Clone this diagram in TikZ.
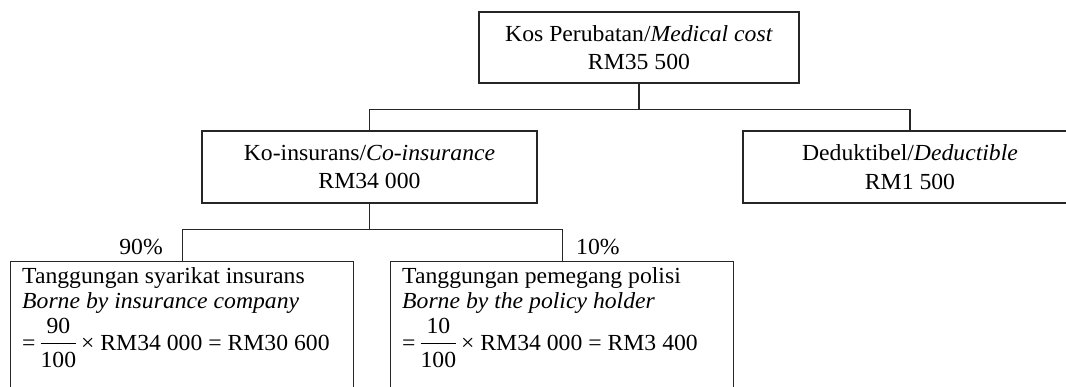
\documentclass[tikz,border=0pt]{standalone}
\usepackage{amsmath}
\usepackage{fontspec}
\setmainfont{Liberation Serif}[FakeStretch=1.03]
\begin{document}
\begin{tikzpicture}[x=1bp,y=-1bp,
  every node/.style={inner sep=0pt, text=black},
  txt/.style={font=\fontsize{23bp}{28.5bp}\selectfont},
  box/.style={draw=black!85, line width=1.4bp, align=center, txt},
  link/.style={draw=black!85, line width=1.4bp},
  lowbox/.style={draw=black!85, line width=1.4bp, minimum width=343bp, minimum height=150bp, anchor=north west}]
\useasboundingbox (0,0) rectangle (1066,386);
\clip (0,0) rectangle (1066,386);
% upper boxes
\node[box, minimum width=320bp, minimum height=71bp] (top) at (639,47.5) {Kos Perubatan/\textit{Medical cost}\\RM35 500};
\node[box, minimum width=335bp, minimum height=72bp] (co) at (369.5,167) {Ko-insurans/\textit{Co-insurance}\\RM34 000};
\node[box, minimum width=334bp, minimum height=72bp] (ded) at (910,167) {Deduktibel/\textit{Deductible}\\RM1 500};
% lower boxes
\node[lowbox] (ins) at (10,261) {};
\node[lowbox] (pol) at (390,261) {};
\node[txt, anchor=base west] (ins1) at (22,283) {Tanggungan syarikat insurans};
\node[txt, anchor=base west] (ins2) at (22,308) {\textit{Borne by insurance company}};
\node[txt, anchor=base west] (ins3) at (22,350) {=\,$\dfrac{\mbox{90}}{\mbox{100}}$\,× RM34 000 = RM30 600};
\node[txt, anchor=base west] (pol1) at (402,283) {Tanggungan pemegang polisi};
\node[txt, anchor=base west] (pol2) at (402,308) {\textit{Borne by the policy holder}};
\node[txt, anchor=base west] (pol3) at (402,350) {=\,$\dfrac{\mbox{10}}{\mbox{100}}$\,× RM34 000 = RM3 400};
% percentages
\node[txt, anchor=base east] (p90) at (163,254) {90\%};
\node[txt, anchor=base west] (p10) at (576,254) {10\%};
% connectors
\draw[link] (top.south) -- ++(0,26) coordinate (j1);
\draw[link] (co.north) |- (j1) -| (ded.north);
\draw[link] (co.south) -- ++(0,26) coordinate (j2);
\draw[link] (ins.north) |- (j2) -| (pol.north);
\end{tikzpicture}
\end{document}
